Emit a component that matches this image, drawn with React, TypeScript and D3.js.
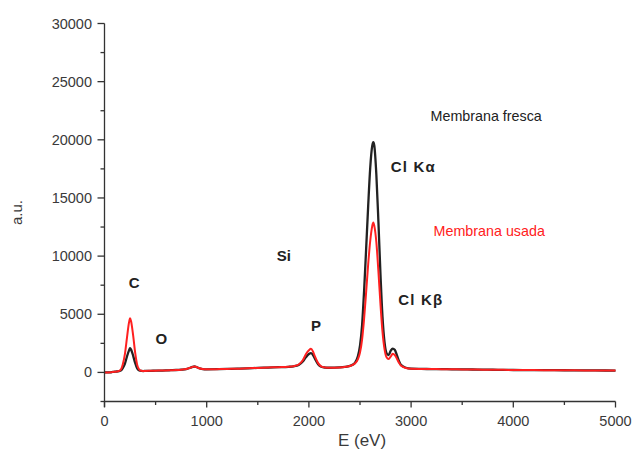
import React from "react";
import * as d3 from "d3";

const energies = [
  0, 20, 40, 60, 80, 100, 120, 140, 160, 180, 200, 220, 240, 250, 260, 280, 300, 320, 340, 360, 380, 400,
  450, 500, 550, 600, 650, 700, 750, 800, 840, 860, 880, 900, 920, 960, 1000, 1100, 1200, 1300, 1400, 1500,
  1600, 1700, 1800, 1850, 1900, 1940, 1970, 2000, 2020, 2040, 2060, 2090, 2120, 2160, 2200, 2250, 2300,
  2350, 2400, 2450, 2480, 2500, 2520, 2540, 2560, 2580, 2600, 2620, 2630, 2640, 2660, 2680, 2700, 2720,
  2740, 2760, 2780, 2800, 2820, 2840, 2860, 2880, 2900, 2950, 3000, 3100, 3200, 3300, 3400, 3500, 3600,
  3700, 3800, 3900, 4000, 4200, 4400, 4600, 4800, 5000,
];

const fresca = [
  0, 0, 0, 10, 40, 60, 80, 110, 160, 380, 760, 1370, 1900, 2090, 1960, 1450, 810, 340, 170, 130, 120, 130,
  140, 150, 160, 170, 190, 210, 240, 290, 400, 470, 510, 470, 380, 290, 270, 280, 300, 320, 350, 390,
  420, 450, 480, 520, 640, 930, 1300, 1580, 1660, 1500, 1150, 700, 490, 420, 400, 410, 430,
  470, 560, 820, 1400, 2300, 4000, 7000, 10600, 14300, 17600, 19500, 19800, 19500, 17000, 13000, 8500, 4800,
  2600, 1650, 1500, 1850, 2050, 1950, 1500, 1000, 650, 400, 320, 300, 290, 280, 270, 260, 250,
  240, 230, 220, 210, 200, 190, 180, 170, 160,
];

const usada = [
  0, 0, 0, 10, 40, 60, 80, 120, 230, 720, 1600, 3000, 4300, 4650, 4400, 3200, 1700, 650, 240, 140, 120, 130,
  140, 150, 160, 170, 190, 210, 240, 290, 400, 470, 510, 470, 380, 290, 270, 280, 300, 320, 350, 390,
  420, 450, 480, 530, 680, 1050, 1550, 1900, 2030, 1800, 1350, 800, 520, 420, 400, 410, 430,
  470, 550, 760, 1150, 1700, 2800, 4600, 6900, 9300, 11300, 12600, 12900, 12600, 11200, 8700, 5900, 3500,
  2000, 1300, 1150, 1350, 1600, 1500, 1200, 850, 600, 380, 320, 300, 290, 280, 270, 260, 250,
  240, 230, 220, 210, 200, 190, 180, 170, 160,
];

const xTicks = [0, 1000, 2000, 3000, 4000, 5000];
const xMinor = [500, 1500, 2500, 3500, 4500];
const yTicks = [0, 5000, 10000, 15000, 20000, 25000, 30000];
const yMinor = [-2500, 2500, 7500, 12500, 17500, 22500, 27500];

const peakLabels = ["C", "O", "Si", "P"];
const peakLabelX = [290, 555, 1755, 2070];
const peakLabelY = [7250, 2450, 9550, 3600];

const lineLabels = ["Cl K\u03b1", "Cl K\u03b2"];
const lineLabelX = [2800, 2875];
const lineLabelY = [17200, 5800];

const seriesNames = ["Membrana fresca", "Membrana usada"];
const seriesLabelX = [3190, 3220];
const seriesLabelY = [21600, 11750];
const seriesColors = ["#222222", "#ff2020"];

export default function App() {
  const W = 633;
  const H = 457;
  const x = d3.scaleLinear().domain([0, 5000]).range([104.5, 615.5]);
  const y = d3.scaleLinear().domain([-2500, 30000]).range([401.5, 23.5]);
  const line = d3
    .line<number>()
    .x((_, i) => x(energies[i]))
    .y((d) => y(d))
    .curve(d3.curveMonotoneX);

  const axisColor = "#333";
  const textColor = "#3a3a3a";
  const font = "Liberation Sans, Arial, sans-serif";

  return (
    <svg
      width={W}
      height={H}
      style={{ position: "absolute", left: 0, top: 0, background: "#fff" }}
      fontFamily={font}
    >
      <rect width={W} height={H} fill="#fff" />
      {/* series */}
      <path d={line(fresca) || ""} fill="none" stroke={seriesColors[0]} strokeWidth={2.3} strokeLinejoin="round" />
      <path d={line(usada) || ""} fill="none" stroke={seriesColors[1]} strokeWidth={2} strokeLinejoin="round" />

      {/* y axis */}
      <line x1={x(0)} x2={x(0)} y1={y(30000)} y2={407} stroke={axisColor} strokeWidth={1.3} />
      {yTicks.map((t) => (
        <g key={"yt" + t}>
          <line x1={x(0) - 7} x2={x(0)} y1={y(t)} y2={y(t)} stroke={axisColor} strokeWidth={1.3} />
          <text x={x(0) - 12.5} y={y(t)} dy="0.35em" textAnchor="end" fontSize={14.5} fill={textColor}>
            {t}
          </text>
        </g>
      ))}
      {yMinor.map((t) => (
        <line key={"ym" + t} x1={x(0) - 4} x2={x(0)} y1={y(t)} y2={y(t)} stroke={axisColor} strokeWidth={1.3} />
      ))}

      {/* x axis */}
      <line x1={x(0)} x2={x(5000)} y1={y(-2500)} y2={y(-2500)} stroke={axisColor} strokeWidth={1.3} />
      {xTicks.map((t) => (
        <g key={"xt" + t}>
          <line x1={x(t)} x2={x(t)} y1={y(-2500)} y2={y(-2500) + 6} stroke={axisColor} strokeWidth={1.3} />
          <text x={x(t)} y={y(-2500) + 24} textAnchor="middle" fontSize={14.5} fill={textColor}>
            {t}
          </text>
        </g>
      ))}
      {xMinor.map((t) => (
        <line key={"xm" + t} x1={x(t)} x2={x(t)} y1={y(-2500)} y2={y(-2500) + 3.5} stroke={axisColor} strokeWidth={1.3} />
      ))}

      {/* axis titles */}
      <text x={362} y={446} textAnchor="middle" fontSize={17} fill={textColor}>
        E (eV)
      </text>
      <text
        transform={`translate(22,${(y(30000) + y(-2500)) / 2}) rotate(-90)`}
        textAnchor="middle"
        fontSize={15}
        fill={textColor}
      >
        a.u.
      </text>

      {/* element labels */}
      {peakLabels.map((s, i) => (
        <text
          key={s}
          x={x(peakLabelX[i])}
          y={y(peakLabelY[i])}
          textAnchor="middle"
          fontSize={15}
          fontWeight="bold"
          fill="#222"
        >
          {s}
        </text>
      ))}
      {lineLabels.map((s, i) => (
        <text
          key={s}
          x={x(lineLabelX[i])}
          y={y(lineLabelY[i])}
          fontSize={15}
          fontWeight="bold"
          letterSpacing={1.2}
          fill="#222"
        >
          {s}
        </text>
      ))}
      {seriesNames.map((s, i) => (
        <text key={s} x={x(seriesLabelX[i])} y={y(seriesLabelY[i])} fontSize={14.3} fill={seriesColors[i]}>
          {s}
        </text>
      ))}
    </svg>
  );
}
